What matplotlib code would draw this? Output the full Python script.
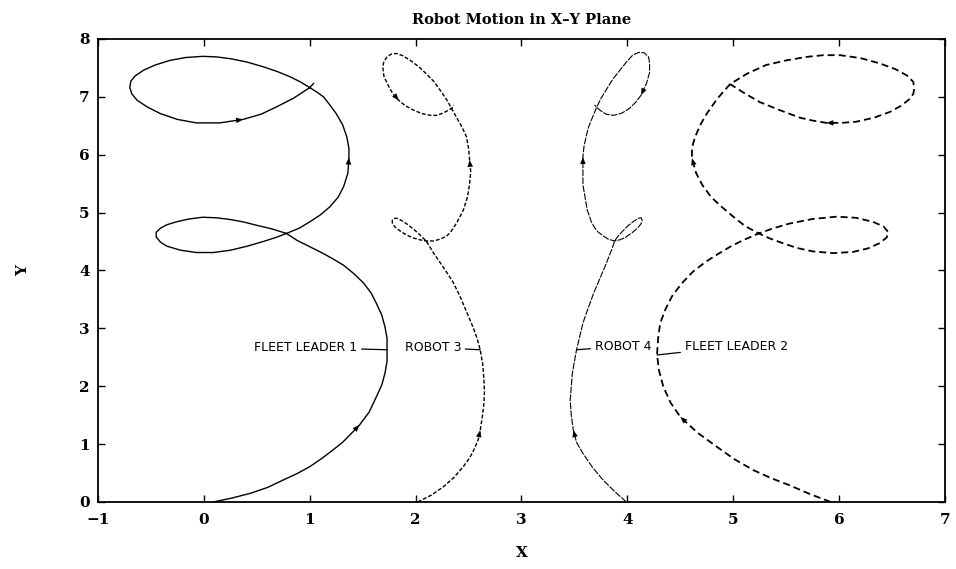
#!/usr/bin/env python3
"""
robot_paths.py — X-Y trajectories of the two fleet leaders and their robots.
"""

import matplotlib
matplotlib.use('Agg')
import matplotlib.pyplot as plt


# ── Trajectory samples (x, y) ────────────────────────────────────────────────

LEADER1_X = [0.09, 0.27, 0.44, 0.60, 0.75, 0.88, 1.00, 1.12, 1.22, 1.31,
             1.38, 1.47, 1.56, 1.63, 1.68, 1.71, 1.73, 1.73, 1.73, 1.71,
             1.68, 1.63, 1.58, 1.51, 1.42, 1.32, 1.21, 1.10, 0.99, 0.88,
             0.78, 0.64, 0.50, 0.37, 0.25, 0.12, -0.01, -0.14, -0.26, -0.35,
             -0.41, -0.45, -0.45, -0.41, -0.35, -0.22, -0.07, 0.09, 0.25, 0.41,
             0.56, 0.68, 0.78, 0.90, 1.00, 1.10, 1.19, 1.27, 1.32, 1.36,
             1.37, 1.37, 1.35, 1.31, 1.25, 1.19, 1.13, 1.07, 1.00, 0.91,
             0.81, 0.69, 0.56, 0.41, 0.25, 0.12, -0.01, -0.17, -0.32, -0.46,
             -0.57, -0.65, -0.69, -0.70, -0.68, -0.63, -0.53, -0.41, -0.25, -0.07,
             0.15, 0.37, 0.54, 0.69, 0.85, 1.00, 1.04]
LEADER1_Y = [0.00, 0.07, 0.15, 0.25, 0.38, 0.49, 0.61, 0.76, 0.90, 1.03,
             1.16, 1.33, 1.55, 1.82, 2.02, 2.22, 2.43, 2.63, 2.83, 3.03,
             3.23, 3.43, 3.61, 3.78, 3.94, 4.09, 4.21, 4.32, 4.42, 4.52,
             4.64, 4.72, 4.78, 4.84, 4.88, 4.91, 4.92, 4.89, 4.84, 4.79,
             4.73, 4.66, 4.58, 4.49, 4.42, 4.35, 4.31, 4.31, 4.35, 4.42,
             4.50, 4.57, 4.64, 4.73, 4.84, 4.96, 5.10, 5.27, 5.45, 5.68,
             5.95, 6.11, 6.31, 6.52, 6.71, 6.86, 7.00, 7.08, 7.16, 7.26,
             7.35, 7.44, 7.52, 7.60, 7.66, 7.69, 7.70, 7.68, 7.63, 7.55,
             7.46, 7.36, 7.27, 7.16, 7.05, 6.94, 6.82, 6.71, 6.61, 6.55,
             6.55, 6.61, 6.70, 6.83, 6.98, 7.16, 7.24]
LEADER1_ARROWS = [11, 60, 91]

ROBOT3_X = [2.02, 2.15, 2.26, 2.36, 2.45, 2.51, 2.55, 2.59, 2.61, 2.63,
            2.645, 2.65, 2.645, 2.635, 2.61, 2.58, 2.54, 2.48, 2.42, 2.35,
            2.26, 2.17, 2.10, 2.06, 2.02, 1.97, 1.92, 1.87, 1.83, 1.80,
            1.78, 1.78, 1.80, 1.84, 1.88, 1.93, 1.98, 2.04, 2.10, 2.17,
            2.23, 2.29, 2.33, 2.39, 2.45, 2.49, 2.51, 2.52, 2.51, 2.50,
            2.48, 2.44, 2.40, 2.34, 2.29, 2.23, 2.17, 2.10, 2.03, 1.95,
            1.88, 1.82, 1.77, 1.73, 1.70, 1.69, 1.70, 1.74, 1.78, 1.84,
            1.90, 1.98, 2.06, 2.14, 2.20, 2.26, 2.30, 2.34, 2.36]
ROBOT3_Y = [0.00, 0.12, 0.26, 0.42, 0.61, 0.76, 0.90, 1.07, 1.24, 1.47,
            1.70, 1.90, 2.11, 2.37, 2.63, 2.83, 3.03, 3.29, 3.55, 3.81,
            4.06, 4.30, 4.51, 4.58, 4.65, 4.73, 4.80, 4.86, 4.90, 4.90,
            4.87, 4.82, 4.76, 4.70, 4.65, 4.60, 4.56, 4.53, 4.51, 4.51,
            4.54, 4.59, 4.66, 4.83, 5.04, 5.27, 5.50, 5.71, 5.91, 6.11,
            6.31, 6.47, 6.60, 6.80, 6.96, 7.12, 7.27, 7.40, 7.52, 7.63,
            7.71, 7.75, 7.74, 7.69, 7.61, 7.52, 7.36, 7.20, 7.07, 6.94,
            6.85, 6.77, 6.71, 6.68, 6.68, 6.72, 6.76, 6.80, 6.86]
ROBOT3_ARROWS = [8, 48, 69]

ROBOT4_X = [3.99, 3.88, 3.77, 3.67, 3.58, 3.52, 3.49, 3.47, 3.46, 3.47,
            3.48, 3.50, 3.52, 3.55, 3.58, 3.63, 3.68, 3.74, 3.80, 3.85,
            3.88, 3.91, 3.95, 4.01, 4.06, 4.10, 4.13, 4.14, 4.13, 4.10,
            4.05, 3.98, 3.93, 3.88, 3.82, 3.77, 3.72, 3.69, 3.66, 3.62,
            3.60, 3.58, 3.58, 3.58, 3.59, 3.61, 3.63, 3.66, 3.71, 3.75,
            3.80, 3.86, 3.93, 3.99, 4.05, 4.11, 4.16, 4.20, 4.21, 4.21,
            4.18, 4.13, 4.08, 4.02, 3.95, 3.87, 3.80, 3.74, 3.71, 3.69]
ROBOT4_Y = [0.00, 0.18, 0.38, 0.60, 0.84, 1.03, 1.24, 1.50, 1.76, 1.99,
            2.22, 2.43, 2.63, 2.86, 3.09, 3.35, 3.60, 3.86, 4.12, 4.35,
            4.51, 4.59, 4.67, 4.78, 4.85, 4.90, 4.91, 4.87, 4.81, 4.74,
            4.66, 4.57, 4.53, 4.51, 4.54, 4.60, 4.67, 4.74, 4.84, 5.05,
            5.27, 5.48, 5.68, 5.96, 6.14, 6.31, 6.46, 6.60, 6.82, 6.97,
            7.12, 7.30, 7.46, 7.60, 7.72, 7.77, 7.76, 7.69, 7.58, 7.42,
            7.23, 7.03, 6.91, 6.80, 6.72, 6.68, 6.70, 6.77, 6.82, 6.86]
ROBOT4_ARROWS = [6, 43, 61]

LEADER2_X = [5.92, 5.72, 5.53, 5.36, 5.19, 5.01, 4.84, 4.66, 4.50, 4.41,
             4.34, 4.30, 4.28, 4.29, 4.31, 4.36, 4.42, 4.51, 4.62, 4.74,
             4.87, 4.98, 5.09, 5.24, 5.38, 5.53, 5.75, 5.98, 6.16, 6.32,
             6.42, 6.46, 6.45, 6.38, 6.27, 6.13, 5.94, 5.75, 5.60, 5.47,
             5.35, 5.24, 5.11, 5.00, 4.89, 4.79, 4.71, 4.65, 4.61, 4.61,
             4.64, 4.69, 4.75, 4.85, 4.97, 5.13, 5.31, 5.50, 5.69, 5.85,
             6.01, 6.20, 6.38, 6.53, 6.64, 6.70, 6.71, 6.70, 6.67, 6.59,
             6.48, 6.33, 6.16, 6.02, 5.88, 5.75, 5.63, 5.44, 5.25, 5.10,
             4.97]
LEADER2_Y = [0.00, 0.14, 0.29, 0.41, 0.55, 0.74, 0.96, 1.20, 1.47, 1.71,
             1.99, 2.26, 2.54, 2.82, 3.09, 3.33, 3.55, 3.77, 3.98, 4.15,
             4.30, 4.42, 4.52, 4.64, 4.73, 4.81, 4.89, 4.93, 4.91, 4.84,
             4.76, 4.67, 4.57, 4.47, 4.38, 4.32, 4.30, 4.33, 4.39, 4.47,
             4.55, 4.64, 4.77, 4.93, 5.10, 5.27, 5.47, 5.68, 5.94, 6.12,
             6.31, 6.52, 6.71, 6.97, 7.22, 7.40, 7.55, 7.63, 7.69, 7.72,
             7.72, 7.67, 7.58, 7.48, 7.37, 7.26, 7.14, 7.05, 6.97, 6.85,
             6.74, 6.64, 6.57, 6.55, 6.55, 6.59, 6.64, 6.77, 6.91, 7.07,
             7.22]
LEADER2_ARROWS = [8, 48, 74]

# ── Callout labels: text, point on the curve, text anchor ───────────────────

CALLOUTS = [
    ('FLEET LEADER 1', (1.73, 2.63), (1.45, 2.67), 'right'),
    ('ROBOT 3',        (2.61, 2.63), (2.43, 2.67), 'right'),
    ('ROBOT 4',        (3.52, 2.63), (3.69, 2.69), 'left'),
    ('FLEET LEADER 2', (4.28, 2.54), (4.54, 2.69), 'left'),
]


def draw_path(ax, xs, ys, arrows, **style):
    ax.plot(xs, ys, color='black', solid_capstyle='butt', **style)
    # Small filled heads showing the direction of travel
    for i in arrows:
        ax.annotate('', xy=(xs[i], ys[i]), xytext=(xs[i - 1], ys[i - 1]),
                    arrowprops=dict(arrowstyle='-|>,head_length=0.5,head_width=0.2',
                                    color='black', lw=0, mutation_scale=10,
                                    shrinkA=0, shrinkB=0))


def main():
    fig = plt.figure(figsize=(9.56, 5.69), dpi=100)
    ax = fig.add_axes([0.1025, 0.1178, 0.886, 0.8137])

    draw_path(ax, LEADER1_X, LEADER1_Y, LEADER1_ARROWS, lw=1.0)
    draw_path(ax, ROBOT3_X, ROBOT3_Y, ROBOT3_ARROWS, lw=1.0,
              linestyle=(0, (2.8, 1.4)))
    draw_path(ax, ROBOT4_X, ROBOT4_Y, ROBOT4_ARROWS, lw=0.8,
              linestyle=(0, (6, 1.2)))
    draw_path(ax, LEADER2_X, LEADER2_Y, LEADER2_ARROWS, lw=1.3,
              linestyle=(0, (3.9, 2.2)))

    for text, xy, xytext, ha in CALLOUTS:
        ax.annotate(text, xy=xy, xytext=xytext, ha=ha, va='center',
                    fontsize=9, family='DejaVu Sans',
                    arrowprops=dict(arrowstyle='-', color='black', lw=0.9,
                                    shrinkA=1, shrinkB=0))

    ax.set_xlim(-1, 7)
    ax.set_ylim(0, 8)
    ax.set_xticks(range(-1, 8))
    ax.set_yticks(range(0, 9))

    tick_font = dict(family='DejaVu Serif', weight='bold', size=11)
    ax.tick_params(direction='in', top=True, right=True, length=5, width=1)
    ax.tick_params(axis='x', pad=8)
    ax.tick_params(axis='y', pad=6)
    for lbl in ax.get_xticklabels() + ax.get_yticklabels():
        lbl.set_fontproperties(tick_font)
    for sp in ax.spines.values():
        sp.set_linewidth(1.3)

    ax.set_title('Robot Motion in X\u2013Y Plane', family='DejaVu Serif',
                 weight='bold', fontsize=10.5, pad=11)
    ax.set_xlabel('X', family='DejaVu Serif', weight='bold', fontsize=11)
    ax.set_ylabel('Y', family='DejaVu Serif', weight='bold', fontsize=11)
    ax.xaxis.set_label_coords(0.5, -0.095)
    ax.yaxis.set_label_coords(-0.08, 0.5)

    fig.savefig('out.png', dpi=100)


if __name__ == '__main__':
    main()
